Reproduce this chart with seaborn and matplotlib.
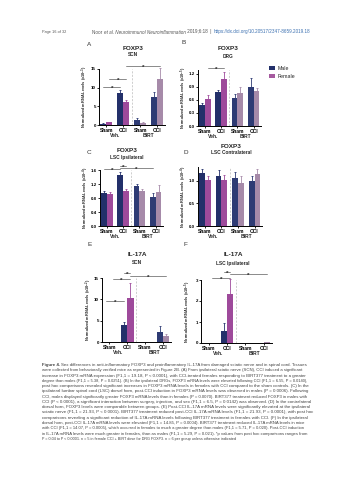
import matplotlib
matplotlib.use("Agg")
import matplotlib.pyplot as plt
import seaborn as sns
import pandas as pd
import numpy as np
from matplotlib.patches import Patch

# ---------------- data ----------------
groups = ["Veh Sham", "Veh CCI", "BIRT Sham", "BIRT CCI"]
group_tick_labels = ["Sham", "CCI", "Sham", "CCI"]
treatments = ["Veh.", "BIRT"]
sexes = ["Male", "Female"]

A_male = [0.4, 8.7, 1.3, 7.5]
A_female = [0.7, 6.1, 0.5, 12.2]
A_male_err = [0.2, 0.8, 0.6, 1.4]
A_female_err = [0.2, 0.7, 0.3, 3.1]
A_yticks = [0, 5, 10, 15]
A_yticklabels = ["0", "5", "10", "15"]

B_male = [0.48, 0.78, 0.64, 0.90]
B_female = [0.63, 1.08, 0.77, 0.81]
B_male_err = [0.05, 0.05, 0.09, 0.21]
B_female_err = [0.09, 0.16, 0.13, 0.06]
B_yticks = [0, 0.3, 0.6, 0.9, 1.2]
B_yticklabels = ["0.0", "0.3", "0.6", "0.9", "1.2"]

C_male = [0.95, 1.46, 1.13, 0.84]
C_female = [0.91, 1.00, 1.00, 0.98]
C_male_err = [0.05, 0.08, 0.08, 0.10]
C_female_err = [0.07, 0.07, 0.07, 0.18]
C_yticks = [0, 0.4, 0.8, 1.2, 1.6]
C_yticklabels = ["0.0", "0.4", "0.8", "1.2", "1.6"]

D_male = [1.17, 1.12, 1.07, 1.00]
D_female = [1.03, 1.03, 0.96, 1.15]
D_male_err = [0.10, 0.12, 0.12, 0.10]
D_female_err = [0.07, 0.11, 0.15, 0.12]
D_yticks = [0, 0.5, 1.0]
D_yticklabels = ["0.0", "0.5", "1.0"]

E_male = [0.0, 4.0, 0.0, 2.3]
E_female = [0.0, 10.3, 0.0, 1.3]
E_male_err = [0.0, 0.6, 0.0, 1.5]
E_female_err = [0.0, 3.5, 0.0, 0.6]
E_yticks = [0, 5, 10, 15]
E_yticklabels = ["0", "5", "10", "15"]

F_male = [0.0, 0.55, 0.0, 0.02]
F_female = [0.0, 2.35, 0.0, 0.04]
F_male_err = [0.0, 0.40, 0.0, 0.0]
F_female_err = [0.0, 0.68, 0.0, 0.03]
F_yticks = [0, 1, 2, 3]
F_yticklabels = ["0", "1", "2", "3"]

# brackets: ((group, sex), (group, sex), height)  sex 0=male 1=female
A_brackets = [((0, 0), (1, 0), 10.2), ((0, 1), (1, 1), 12.3), ((1, 1), (3, 1), 15.8)]
B_brackets = [((0, 1), (1, 1), 1.33)]
C_brackets = [((0, 0), (1, 0), 1.62), ((1, 0), (1, 1), 1.72), ((1, 0), (3, 0), 1.66)]
D_brackets = []
E_brackets = [((0, 0), (1, 0), 9.7), ((0, 1), (1, 1), 14.8), ((1, 0), (1, 1), 16.2), ((1, 1), (3, 1), 15.5)]
F_brackets = [((0, 1), (1, 1), 3.1), ((1, 0), (1, 1), 3.38), ((1, 1), (3, 1), 3.29)]

panels = [
    dict(key="A", title="FOXP3", sub="SCN", male=A_male, female=A_female, merr=A_male_err, ferr=A_female_err,
         yticks=A_yticks, ytl=A_yticklabels, exp="-3", brackets=A_brackets),
    dict(key="B", title="FOXP3", sub="DRG", male=B_male, female=B_female, merr=B_male_err, ferr=B_female_err,
         yticks=B_yticks, ytl=B_yticklabels, exp="-5", brackets=B_brackets),
    dict(key="C", title="FOXP3", sub="LSC Ipsilateral", male=C_male, female=C_female, merr=C_male_err, ferr=C_female_err,
         yticks=C_yticks, ytl=C_yticklabels, exp="-4", brackets=C_brackets),
    dict(key="D", title="FOXP3", sub="LSC Contralateral", male=D_male, female=D_female, merr=D_male_err, ferr=D_female_err,
         yticks=D_yticks, ytl=D_yticklabels, exp="-4", brackets=D_brackets),
    dict(key="E", title="IL-17A", sub="SCN", male=E_male, female=E_female, merr=E_male_err, ferr=E_female_err,
         yticks=E_yticks, ytl=E_yticklabels, exp="-2", brackets=E_brackets),
    dict(key="F", title="IL-17A", sub="LSC Ipsilateral", male=F_male, female=F_female, merr=F_male_err, ferr=F_female_err,
         yticks=F_yticks, ytl=F_yticklabels, exp="-5", brackets=F_brackets),
]

header_left = "Page 16 of 32"
header_segments = [("Noor ", "normal", "#555555"), ("et al. Neuroimmunol Neuroinflammation", "italic", "#555555"),
                   (" 2019;6:18  |  ", "normal", "#555555"),
                   ("https://dx.doi.org/10.20517/2347-8659.2019.18", "normal", "#3a6fb0")]

caption_lines = [
    "Sex differences in anti-inflammatory FOXP3 and proinflammatory IL-17A from damaged sciatic nerve and in spinal cord. Tissues",
    "were collected from behaviorally verified mice as represented in Figure 2B. (A) From ipsilateral sciatic nerve (SCN), CCI induced a significant",
    "increase in FOXP3 mRNA expression (F1,1 = 19.18, P < 0.0001), with CCI-treated females responding to BIRT377 treatment to a greater",
    "degree than males (F1,1 = 5.38, P = 0.0251). (B) In the ipsilateral DRGs, FOXP3 mRNA levels were elevated following CCI (F1,1 = 6.55, P = 0.0140),",
    "post hoc comparisons revealed significant increases in FOXP3 mRNA levels in females with CCI compared to the sham controls. (C) In the",
    "ipsilateral lumbar spinal cord (LSC) dorsal horn, post-CCI induction in FOXP3 mRNA levels was observed in males (P = 0.0006). Following",
    "CCI, males displayed significantly greater FOXP3 mRNA levels than in females (P = 0.0070). BIRT377 treatment reduced FOXP3 in males with",
    "CCI (P < 0.0001), a significant interaction between surgery, injection, and sex (F1,1 = 6.5, P = 0.0142) was observed. (D) In the contralateral",
    "dorsal horn, FOXP3 levels were comparable between groups. (E) Post-CCI IL-17A mRNA levels were significantly elevated at the ipsilateral",
    "sciatic nerve (F1,1 = 21.93, P < 0.0001). BIRT377 treatment reduced post-CCI IL-17A mRNA levels (F1,1 = 21.93, P = 0.0001), with post hoc",
    "comparisons revealing a significant reduction of IL-17A mRNA levels following BIRT377 treatment in females with CCI. (F) In the ipsilateral",
    "dorsal horn, post-CCI IL-17A mRNA levels were elevated (F1,1 = 14.85, P = 0.0004). BIRT377 treatment reduced IL-17A mRNA levels in mice",
    "with CCI (F1,1 = 14.07, P = 0.0005), which occurred in females to much a greater degree than males (F1,1 = 5.71, P = 0.020). Post-CCI induction",
    "in IL-17A mRNA levels were much greater in females, than as males (F1,1 = 5.29, P = 0.021). *p values from post hoc comparisons ranges from",
    "P = 0.04 to P < 0.0001. n = 5 in female CCI + BIRT dose for DRG FOXP3. n = 6 per group unless otherwise indicated",
]

# ---------------- style / layout ----------------
COL = {("Male", 0): "#23306a", ("Female", 0): "#9e4a9b",
       ("Male", 1): "#2e3b74", ("Female", 1): "#a68aa9"}
LEG = {"Male": "#23306a", "Female": "#a65a9f"}

layout = {
    "A": dict(box=(99, 69, 165, 125), ylim=(0, 15), title_xy=(133, 48), sub_y=54, letter=(87, 45), ylab_x=85),
    "B": dict(box=(198, 70, 261, 126), ylim=(0, 1.29), title_xy=(228, 49), sub_y=56, letter=(182, 43), ylab_x=183.5),
    "C": dict(box=(100, 170, 163, 226), ylim=(0, 1.6), title_xy=(127, 151), sub_y=157, letter=(87, 152), ylab_x=85.5),
    "D": dict(box=(198, 167, 262, 226), ylim=(0, 1.31), title_xy=(231, 147), sub_y=153, letter=(183, 152), ylab_x=183.5),
    "E": dict(box=(102, 278, 171, 342), ylim=(0, 15), title_xy=(137, 255), sub_y=263, letter=(87, 245), ylab_x=89),
    "F": dict(box=(201, 280, 272, 343), ylim=(0, 3), title_xy=(233, 255), sub_y=263, letter=(183, 245), ylab_x=188),
}

W, H = 353, 480
sns.set_theme(style="ticks")
plt.rcParams["font.family"] = ["Liberation Sans", "DejaVu Sans"]
plt.rcParams["mathtext.fontset"] = "custom"
plt.rcParams["mathtext.rm"] = "Liberation Sans"
plt.rcParams["mathtext.bf"] = "Liberation Sans:bold"
plt.rcParams["mathtext.default"] = "bf"

fig = plt.figure(figsize=(W / 100, H / 100), dpi=100)
fig.patch.set_facecolor("white")


def fx(x):
    return x / W


def fy(y):
    return 1 - y / H


BAR_W = 0.7
for p in panels:
    L = layout[p["key"]]
    l, t, r, b = L["box"]
    ax = fig.add_axes([fx(l), fy(b), (r - l) / W, (b - t) / H])
    df = pd.DataFrame({
        "group": groups * 2,
        "sex": ["Male"] * 4 + ["Female"] * 4,
        "value": list(p["male"]) + list(p["female"]),
    })
    sns.barplot(data=df, x="group", y="value", hue="sex", order=groups, hue_order=sexes,
                palette=LEG, width=BAR_W, errorbar=None, ax=ax, legend=False,
                linewidth=0, saturation=1)
    bar_conts = list(ax.containers)
    centers = {}
    for si, cont in enumerate(bar_conts):
        errs = p["merr"] if si == 0 else p["ferr"]
        for gi, patch in enumerate(cont.patches):
            c = COL[(sexes[si], 0 if gi < 2 else 1)]
            patch.set_facecolor(c)
            xc = patch.get_x() + patch.get_width() / 2
            h = patch.get_height()
            centers[(gi, si)] = xc
            if errs[gi] > 0:
                ax.errorbar([xc], [h], yerr=[[0], [errs[gi]]], fmt="none", ecolor=c,
                            elinewidth=0.6, capsize=1.0, capthick=0.6, clip_on=False)
    ax.set_ylim(*L["ylim"])
    ax.set_xlim(-0.42, 3.45)
    ax.set_yticks(p["yticks"])
    ax.set_yticklabels(p["ytl"], fontsize=3.2, fontweight="bold")
    ax.set_xticks(range(4))
    ax.set_xticklabels(group_tick_labels, fontsize=3.6, fontweight="bold")
    ax.tick_params(axis="both", length=1.5, width=0.6, pad=0.8, colors="black")
    ax.set_xlabel("")
    ax.set_ylabel("")
    for s in ["top", "right"]:
        ax.spines[s].set_visible(False)
    for s in ["left", "bottom"]:
        ax.spines[s].set_linewidth(0.7)
        ax.spines[s].set_color("black")
    # divider
    ax.axvline(1.5, ymin=0, ymax=1.0, color="#bbbbbb", lw=0.5, ls=(0, (3, 2)), clip_on=False)
    # treatment labels
    for ti, tname in enumerate(treatments):
        ax.annotate(tname, xy=(0.5 + 2 * ti, 0), xycoords=("data", "axes fraction"),
                    xytext=(0, -5.6), textcoords="offset points", ha="center", va="top",
                    fontsize=3.6, fontweight="bold")
    # brackets
    for (g1, s1), (g2, s2), yb in p["brackets"]:
        x1, x2 = centers[(g1, s1)], centers[(g2, s2)]
        ax.plot([x1, x2], [yb, yb], color="#777777", lw=0.6, clip_on=False)
        ax.annotate("*", xy=((x1 + x2) / 2, yb), xytext=(0, -1.0), textcoords="offset points",
                    ha="center", va="center", fontsize=4.5, fontweight="bold", annotation_clip=False)
    # titles
    tx, ty = L["title_xy"]
    fig.text(fx(tx), fy(ty), p["title"], ha="center", va="center", fontsize=4.6, fontweight="bold")
    fig.text(fx(tx), fy(L["sub_y"]), p["sub"], ha="center", va="center", fontsize=3.4, fontweight="bold")
    lx, ly = L["letter"]
    fig.text(fx(lx), fy(ly), p["key"], ha="left", va="center", fontsize=4.6, color="#333333")
    fig.text(fx(L["ylab_x"]), fy((t + b) / 2), "Normalized mRNA Levels (x10$^{" + p["exp"] + "}$)",
             rotation=90, ha="center", va="center", fontsize=2.8, fontweight="bold")

# legend (panel B)
handles = [Patch(facecolor=LEG[s], edgecolor="none") for s in sexes]
fig.legend(handles, sexes, loc="upper left", bbox_to_anchor=(fx(269), fy(66)), frameon=False,
           fontsize=3.8, handlelength=1.1, handleheight=0.9, handletextpad=0.6, labelspacing=0.55,
           borderpad=0, borderaxespad=0)

# header & caption
renderer = fig.canvas.get_renderer()


def place_line(segments, x0, y, target=None, fs=2.8):
    texts = []
    for s, style, color, weight in segments:
        texts.append(fig.text(fx(x0), fy(y), s, fontsize=fs, fontstyle=style, color=color,
                              fontweight=weight, ha="left", va="center"))

    def layout_line():
        x = x0
        for tt in texts:
            tt.set_x(fx(x))
            x += tt.get_window_extent(renderer=renderer).width
        return x - x0

    total = layout_line()
    if target:
        sc = target / total
        for tt in texts:
            tt.set_fontsize(fs * sc)
        layout_line()


fig.text(fx(42), fy(32), header_left, fontsize=2.8, color="#555555", ha="left", va="center")
place_line([(s, st, c, "normal") for s, st, c in header_segments], 92, 32, target=219, fs=2.8)

CAP_X, CAP_W, CAP_Y0, CAP_DY = 42, 269, 365, 5.27
for i, line in enumerate(caption_lines):
    y = CAP_Y0 + i * CAP_DY
    if i == 0:
        segs = [("Figure 4. ", "normal", "#444444", "bold"), (line, "normal", "#444444", "normal")]
    else:
        segs = [(line, "normal", "#444444", "normal")]
    last = i == len(caption_lines) - 1
    place_line(segs, CAP_X, y, target=None if last else CAP_W, fs=2.7)

fig.savefig("out.png", dpi=100, facecolor="white")
